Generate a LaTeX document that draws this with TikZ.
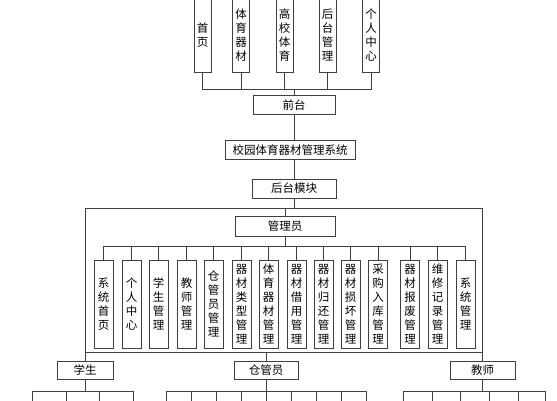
\documentclass[tikz,border=0pt]{standalone}
\usepackage{fontspec}
\setmainfont{Noto Sans CJK SC}
\tikzset{
    box/.style={
        draw=black!75,
        line width=0.8pt,
        fill=white,
        inner sep=0pt,
        text=black,
        font=\fontsize{11.5}{14}\selectfont
    },
    hbox/.style={box, minimum height=19pt},
    vbox/.style={box, align=center, minimum width=19pt, minimum height=88pt},
    topbox/.style={box, align=center, minimum width=17pt, minimum height=74pt},
    cell/.style={draw=black!75, line width=0.8pt, minimum height=20pt, inner sep=0pt},
    link/.style={draw=black!75, line width=0.8pt}
}

\begin{document}
\begin{tikzpicture}[x=1pt, y=-1pt]
    \useasboundingbox (0,0) rectangle (557,400);
    \clip (0,0) rectangle (557,400);

    % front end
    \node[topbox] (sy) at (202.5,35) {首\\页};
    \node[topbox] (tyqc) at (241,35) {体\\育\\器\\材};
    \node[topbox] (gxty) at (284.5,35) {高\\校\\体\\育};
    \node[topbox] (htgl) at (327.5,35) {后\\台\\管\\理};
    \node[topbox] (grzx) at (371,35) {个\\人\\中\\心};
    \node[hbox, minimum width=82pt] (qt) at (294,105) {前台};
    \node[hbox, minimum width=130pt] (sys) at (290,150) {校园体育器材管理系统};
    \node[hbox, minimum width=84pt] (htmk) at (294,188.5) {后台模块};

    % back end
    \node[hbox, minimum width=100pt, minimum height=20pt] (gly) at (285,226) {管理员};
    \node[vbox] (A1) at (103.5,304) {系\\统\\首\\页};
    \node[vbox] (A2) at (131.5,304) {个\\人\\中\\心};
    \node[vbox] (A3) at (158.5,304) {学\\生\\管\\理};
    \node[vbox] (A4) at (186.5,304) {教\\师\\管\\理};
    \node[vbox] (A5) at (213.5,304) {仓\\管\\员\\管\\理};
    \node[vbox] (A6) at (241.5,304) {器\\材\\类\\型\\管\\理};
    \node[vbox] (A7) at (268.5,304) {体\\育\\器\\材\\管\\理};
    \node[vbox] (A8) at (296.5,304) {器\\材\\借\\用\\管\\理};
    \node[vbox] (A9) at (323.5,304) {器\\材\\归\\还\\管\\理};
    \node[vbox] (A10) at (350.5,304) {器\\材\\损\\坏\\管\\理};
    \node[vbox] (A11) at (378,304) {采\\购\\入\\库\\管\\理};
    \node[vbox] (A12) at (410,304) {器\\材\\报\\废\\管\\理};
    \node[vbox] (A13) at (437.5,304) {维\\修\\记\\录\\管\\理};
    \node[vbox] (A14) at (465.5,304) {系\\统\\管\\理};

    \node[hbox, minimum width=56pt, minimum height=18pt] (xs) at (85,370) {学生};
    \node[hbox, minimum width=64pt, minimum height=18pt] (cgy) at (266,370) {仓管员};
    \node[hbox, minimum width=65pt, minimum height=18pt] (js) at (482.5,370) {教师};

    % rows cut off at the bottom
    \node[cell, minimum width=34pt] (S1) at (49,401) {};
    \node[cell, minimum width=33pt] (S2) at (82.5,401) {};
    \node[cell, minimum width=34pt] (S3) at (116,401) {};
    \node[cell, minimum width=25pt] (C1) at (178.5,401) {};
    \node[cell, minimum width=25pt] (C2) at (203.5,401) {};
    \node[cell, minimum width=25pt] (C3) at (228.5,401) {};
    \node[cell, minimum width=25pt] (C4) at (253.5,401) {};
    \node[cell, minimum width=25pt] (C5) at (278.5,401) {};
    \node[cell, minimum width=25pt] (C6) at (303.5,401) {};
    \node[cell, minimum width=25pt] (C7) at (328.5,401) {};
    \node[cell, minimum width=25pt] (C8) at (353.5,401) {};
    \node[cell, minimum width=29pt] (T1) at (417.5,401) {};
    \node[cell, minimum width=28pt] (T2) at (446,401) {};
    \node[cell, minimum width=29pt] (T3) at (474.5,401) {};
    \node[cell, minimum width=29pt] (T4) at (503.5,401) {};
    \node[cell, minimum width=27pt] (T5) at (531.5,401) {};

    \coordinate (fbus) at (294,89);
    \coordinate (hbus) at (294,208);
    \coordinate (abus) at (285,246);
    \coordinate (rbus) at (266,352);

    \draw[link] (qt) -- (fbus);
    \foreach \n in {sy,tyqc,gxty,htgl,grzx}
        \draw[link] (fbus) -| (\n.south);
    \draw[link] (qt.south) -- (qt.south |- sys.north);
    \draw[link] (sys.south -| htmk.north) -- (htmk.north);
    \draw[link] (htmk.south) -- (hbus);
    \draw[link] (xs.north) -- (xs.north |- hbus) -- (js.north |- hbus) -- (js.north);
    \draw[link] (hbus -| gly.north) -- (gly.north);
    \draw[link] (gly.south) -- (abus);
    \foreach \n in {A1,A2,A3,A4,A5,A6,A7,A8,A9,A10,A11,A12,A13,A14}
        \draw[link] (abus) -| (\n.north);
    \draw[link] (xs.north |- rbus) -- (js.north |- rbus);
    \draw[link] (rbus) -- (cgy.north);
    \draw[link] (xs.south) -- (xs.south |- S2.north);
    \draw[link] (cgy.south) -- (cgy.south |- C5.north);
    \draw[link] (js.south) -- (js.south |- T3.north);
\end{tikzpicture}
\end{document}
